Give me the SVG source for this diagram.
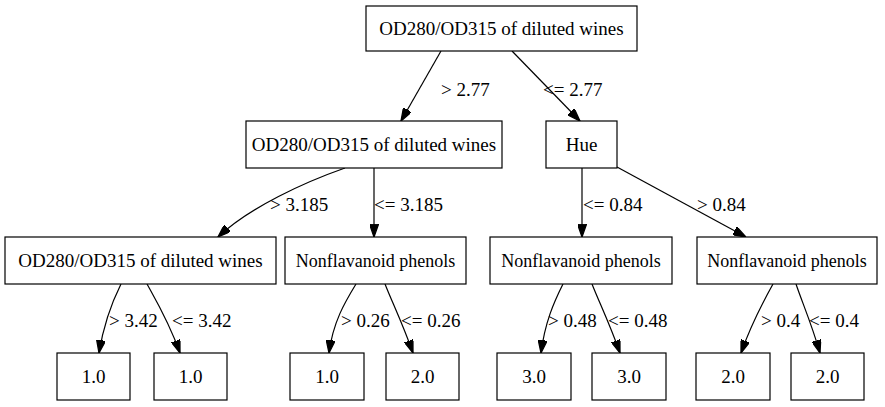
<svg xmlns="http://www.w3.org/2000/svg" width="885" height="407" viewBox="0 0 885 407">
<style>
rect{fill:#fff;stroke:#000;stroke-width:1.2}
text{font-family:"Liberation Serif","Times New Roman",serif;font-size:19px;fill:#000}
.n{text-anchor:middle}
.np{font-size:18px}
.e path{fill:none;stroke:#000;stroke-width:1.2;marker-end:url(#ah)}
</style>
<defs>
<marker id="ah" viewBox="0 0 10 7" markerWidth="13" markerHeight="9" markerUnits="userSpaceOnUse" refX="10" refY="3.5" orient="auto">
<path d="M0,0 L10,3.5 L0,7 z" fill="#000" stroke="#000"/>
</marker>
</defs>
<rect width="885" height="407" style="fill:#fff;stroke:none"/>
<g class="e" id="connectors">
<path d="M441,51 L401,121"/><text x="441" y="96">&gt; 2.77</text>
<path d="M512,51 L580,121"/><text x="543" y="96">&lt;= 2.77</text>
<path d="M345,168 C305,182 250,207 218,237"/><text x="270" y="211">&gt; 3.185</text>
<path d="M374,168 L374,237"/><text x="374" y="211">&lt;= 3.185</text>
<path d="M582,168 L582,237"/><text x="583" y="211">&lt;= 0.84</text>
<path d="M617,167 L746,237"/><text x="697" y="211">&gt; 0.84</text>
<path d="M121,284 C112,302 104,322 99,353"/><text x="109" y="327">&gt; 3.42</text>
<path d="M147,284 C157,302 169,322 180,353"/><text x="172" y="327">&lt;= 3.42</text>
<path d="M356,284 C345,302 333,322 329,353"/><text x="341" y="327">&gt; 0.26</text>
<path d="M385,284 C392,302 402,322 413,353"/><text x="401" y="327">&lt;= 0.26</text>
<path d="M563,284 C554,302 545,322 541,353"/><text x="548" y="327">&gt; 0.48</text>
<path d="M592,284 C599,302 609,322 620,353"/><text x="608" y="327">&lt;= 0.48</text>
<path d="M773,284 C763,302 752,322 741,353"/><text x="761" y="327">&gt; 0.4</text>
<path d="M796,284 C802,302 811,322 820,353"/><text x="809" y="327">&lt;= 0.4</text>
</g>
<g id="n0"><rect x="366" y="6" width="271" height="45"/><text class="n" x="501.5" y="35">OD280/OD315 of diluted wines</text></g>
<g id="n1"><rect x="246" y="121" width="256" height="47"/><text class="n" x="374" y="151">OD280/OD315 of diluted wines</text></g>
<g id="n2"><rect x="546" y="121" width="71" height="47"/><text class="n" x="581.5" y="151">Hue</text></g>
<g id="n3"><rect x="5" y="237" width="271" height="47"/><text class="n" x="140.5" y="267">OD280/OD315 of diluted wines</text></g>
<g id="n4"><rect x="285" y="237" width="181" height="47"/><text class="n np" x="375.5" y="266.5">Nonflavanoid phenols</text></g>
<g id="n5"><rect x="490" y="237" width="182" height="47"/><text class="n np" x="581" y="266.5">Nonflavanoid phenols</text></g>
<g id="n6"><rect x="697" y="237" width="180" height="47"/><text class="n np" x="787" y="266.5">Nonflavanoid phenols</text></g>
<g id="l1"><rect x="57" y="353" width="73" height="47"/><text class="n" x="93.5" y="383">1.0</text></g>
<g id="l2"><rect x="154" y="353" width="73" height="47"/><text class="n" x="190.5" y="383">1.0</text></g>
<g id="l3"><rect x="290" y="353" width="74" height="47"/><text class="n" x="327" y="383">1.0</text></g>
<g id="l4"><rect x="386" y="353" width="73" height="47"/><text class="n" x="422.5" y="383">2.0</text></g>
<g id="l5"><rect x="497" y="353" width="74" height="47"/><text class="n" x="534" y="383">3.0</text></g>
<g id="l6"><rect x="592" y="353" width="74" height="47"/><text class="n" x="629" y="383">3.0</text></g>
<g id="l7"><rect x="696" y="353" width="74" height="47"/><text class="n" x="733" y="383">2.0</text></g>
<g id="l8"><rect x="791" y="353" width="73" height="47"/><text class="n" x="827.5" y="383">2.0</text></g>
</svg>
